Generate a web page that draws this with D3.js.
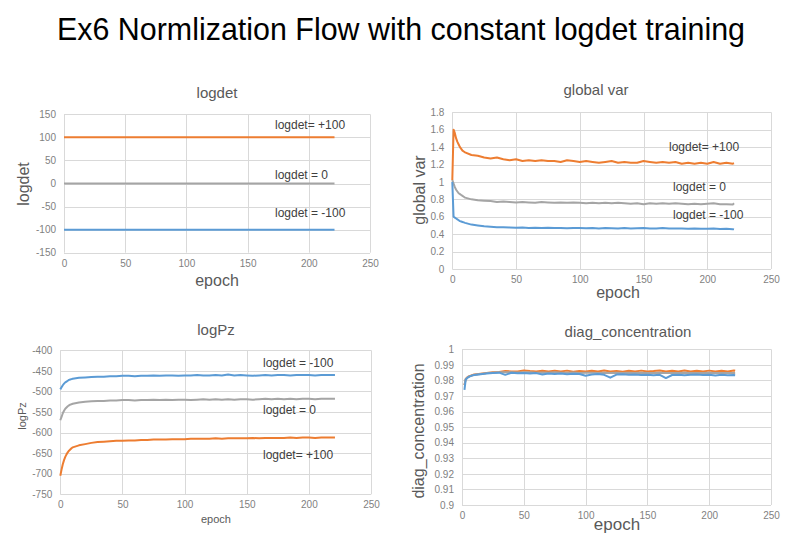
<!DOCTYPE html>
<html>
<head>
<meta charset="utf-8">
<script src="https://cdn.jsdelivr.net/npm/d3@7"></script>
<style>
  body { margin: 0; background: #fff; }
  text { font-family: "Liberation Sans", Arial, sans-serif; }
</style>
</head>
<body>
<div id="container"></div>
<script>
var epochs = [0,1,2,3,4,5,6,7,8,9,10,15,20,25,30,35,40,45,50,55,60,65,70,75,80,85,90,95,100,105,110,115,120,125,130,135,140,145,150,155,160,165,170,175,180,185,190,195,200,205,210,215,220,221];
var logdetEpochs = [0, 221];

// logdet panel
var logdetPos = [100, 100];
var logdetZero = [0, 0];
var logdetNeg = [-100, -100];

// global var panel
var varPos = [1.02,1.60,1.56,1.50,1.46,1.43,1.40,1.38,1.36,1.35,1.34,1.31,1.30,1.28,1.27,1.28,1.26,1.25,1.26,1.24,1.25,1.24,1.25,1.24,1.24,1.23,1.25,1.24,1.23,1.24,1.23,1.22,1.23,1.24,1.22,1.23,1.22,1.22,1.24,1.23,1.22,1.23,1.22,1.23,1.21,1.22,1.21,1.22,1.21,1.23,1.21,1.22,1.21,1.215];
var varZero = [1.02,0.98,0.94,0.91,0.89,0.87,0.86,0.85,0.84,0.83,0.82,0.80,0.79,0.785,0.78,0.77,0.775,0.77,0.765,0.77,0.765,0.76,0.77,0.765,0.76,0.765,0.76,0.765,0.76,0.755,0.76,0.755,0.76,0.755,0.76,0.755,0.75,0.755,0.745,0.755,0.75,0.755,0.75,0.755,0.75,0.745,0.75,0.745,0.75,0.755,0.745,0.745,0.74,0.755];
var varNeg = [1.00,0.60,0.59,0.58,0.57,0.56,0.55,0.545,0.54,0.535,0.53,0.51,0.50,0.49,0.485,0.48,0.48,0.478,0.475,0.478,0.472,0.475,0.47,0.474,0.47,0.472,0.468,0.472,0.47,0.468,0.472,0.466,0.47,0.468,0.465,0.47,0.466,0.468,0.47,0.465,0.466,0.47,0.464,0.466,0.465,0.462,0.466,0.463,0.462,0.465,0.46,0.462,0.458,0.455];

// logPz panel
var pzNeg = [-495,-490,-485,-481,-478,-476,-474,-472,-471,-470,-469,-467,-466,-465,-464,-464,-463,-463,-462,-462,-463,-462,-462,-461,-462,-461,-461,-462,-461,-461,-460,-461,-461,-460,-461,-459,-461,-460,-461,-462,-461,-460,-461,-460,-460,-461,-460,-460,-460,-461,-460,-460,-460,-460];
var pzZero = [-570,-562,-553,-547,-542,-539,-536,-534,-532,-531,-530,-527,-525,-524,-523,-523,-522,-522,-521,-521,-522,-521,-521,-520,-521,-520,-521,-520,-520,-521,-520,-519,-520,-519,-520,-519,-520,-519,-519,-520,-519,-518,-519,-518,-519,-518,-519,-518,-518,-519,-518,-518,-518,-518];
var pzPos = [-705,-690,-677,-667,-659,-653,-648,-644,-641,-638,-636,-631,-628,-625,-623,-622,-621,-620,-620,-619,-619,-618,-618,-617,-617,-617,-616,-616,-616,-615,-615,-615,-615,-614,-615,-614,-614,-614,-614,-613,-614,-613,-613,-613,-613,-612,-613,-612,-612,-613,-612,-612,-612,-612];

// diag_concentration panel (no values at epoch 0 and 1)
var diagPos = [null,null,0.977,0.981,0.9818,0.9824,0.9828,0.983,0.9833,0.9836,0.9838,0.9843,0.9848,0.9852,0.9855,0.986,0.9858,0.9857,0.9864,0.986,0.9858,0.9862,0.9857,0.9862,0.9858,0.9863,0.9856,0.9861,0.9858,0.9862,0.9857,0.9864,0.9858,0.9861,0.9856,0.9862,0.9858,0.9863,0.9857,0.986,0.9864,0.9857,0.9862,0.9858,0.9864,0.9857,0.9862,0.9858,0.9863,0.9857,0.9862,0.9858,0.9864,0.9862];
var diagZero = [null,null,0.977,0.9808,0.9816,0.9822,0.9826,0.9829,0.9832,0.9834,0.9836,0.9842,0.9847,0.985,0.9852,0.9853,0.9852,0.9851,0.9853,0.9852,0.985,0.9851,0.9849,0.9852,0.985,0.9849,0.9851,0.9848,0.985,0.9849,0.9848,0.985,0.9847,0.9849,0.9848,0.985,0.9847,0.9849,0.9847,0.9848,0.9849,0.9847,0.9848,0.9847,0.9849,0.9847,0.9848,0.9847,0.9849,0.9847,0.9848,0.9847,0.9848,0.9848];
var diagNeg = [null,null,0.974,0.9805,0.9814,0.982,0.9825,0.9828,0.9831,0.9833,0.9835,0.984,0.9845,0.9848,0.985,0.9836,0.9849,0.9846,0.9848,0.9845,0.9847,0.9838,0.9845,0.9842,0.9844,0.984,0.9843,0.9841,0.983,0.9838,0.9842,0.9836,0.9818,0.9838,0.984,0.9836,0.9838,0.9835,0.9837,0.9834,0.9836,0.9815,0.9835,0.9837,0.9834,0.9836,0.9838,0.9835,0.9837,0.9832,0.9836,0.9834,0.9835,0.9834];

// tick values
var xTicks = [0, 50, 100, 150, 200, 250];
var logdetTicks = [-150, -100, -50, 0, 50, 100, 150];
var varTicks = [0, 0.2, 0.4, 0.6, 0.8, 1, 1.2, 1.4, 1.6, 1.8];
var pzTicks = [-750, -700, -650, -600, -550, -500, -450, -400];
var diagTicks = [0.9, 0.91, 0.92, 0.93, 0.94, 0.95, 0.96, 0.97, 0.98, 0.99, 1];

var labelPos = "logdet= +100", labelZero = "logdet = 0", labelNeg = "logdet = -100";

var orange = "#ED7D31", gray = "#A5A5A5", blue = "#5B9BD5";

var svg = d3.select("#container").append("svg")
  .attr("width", 800).attr("height", 541);
svg.append("rect").attr("width", 800).attr("height", 541).attr("fill", "#fff");

svg.append("text") //main title
  .attr("x", 401).attr("y", 40)
  .attr("text-anchor", "middle")
  .attr("font-size", 32)
  .attr("font-family", "Lato, 'Liberation Sans', sans-serif")
  .attr("font-weight", 300)
  .attr("textLength", 688).attr("lengthAdjust", "spacingAndGlyphs")
  .attr("fill", "#000")
  .text("Ex6 Normlization Flow with constant logdet training");

var panels = [
  { l: 64, r: 370, t: 114.3, b: 252.7, yTicks: logdetTicks, title: "logdet", tx: 217, ty: 98,
    xl: 217, xlY: 286, xlSize: 16, yl: "logdet", ylX: 29, ylY: 184, ylSize: 16,
    series: [[logdetEpochs, logdetPos, orange], [logdetEpochs, logdetZero, gray], [logdetEpochs, logdetNeg, blue]],
    notes: [[labelPos, 275, 129], [labelZero, 275, 179], [labelNeg, 275, 217]] },
  { l: 452.3, r: 771, t: 112.3, b: 269, yTicks: varTicks, title: "global var", tx: 596, ty: 95,
    xl: 618, xlY: 298, xlSize: 16, yl: "global var", ylX: 425, ylY: 190, ylSize: 16,
    series: [[epochs, varPos, orange], [epochs, varZero, gray], [epochs, varNeg, blue]],
    notes: [[labelPos, 669, 151], [labelZero, 673, 191], [labelNeg, 673, 219]] },
  { l: 60.3, r: 371, t: 350.3, b: 494.3, yTicks: pzTicks, title: "logPz", tx: 216, ty: 335,
    xl: 216, xlY: 523, xlSize: 11, yl: "logPz", ylX: 26, ylY: 416, ylSize: 11,
    series: [[epochs, pzPos, orange], [epochs, pzZero, gray], [epochs, pzNeg, blue]],
    notes: [[labelNeg, 263, 367], [labelZero, 263, 414], [labelPos, 263, 459]] },
  { l: 462, r: 771, t: 349.3, b: 505, yTicks: diagTicks, title: "diag_concentration", tx: 628, ty: 337,
    xl: 617, xlY: 530, xlSize: 17, yl: "diag_concentration", ylX: 424, ylY: 431, ylSize: 16,
    series: [[epochs, diagPos, orange], [epochs, diagZero, gray], [epochs, diagNeg, blue]],
    notes: [] }
];

panels.forEach(drawPanel);

function drawPanel(p) {
  var x = d3.scaleLinear().domain([0, 250]).range([p.l, p.r]);
  var y = d3.scaleLinear().domain(d3.extent(p.yTicks)).range([p.b, p.t]);
  var g = svg.append("g");
  var fmt = function(d) { return String(+d.toFixed(2)); };

  // gridlines
  g.selectAll("line.h").data(p.yTicks).enter().append("line")
    .attr("x1", p.l).attr("x2", p.r)
    .attr("y1", function(d) { return Math.round(y(d)) + 0.5; })
    .attr("y2", function(d) { return Math.round(y(d)) + 0.5; })
    .attr("stroke", "#d9d9d9");
  g.selectAll("line.v").data(xTicks).enter().append("line")
    .attr("y1", p.t).attr("y2", p.b)
    .attr("x1", function(d) { return Math.round(x(d)) + 0.5; })
    .attr("x2", function(d) { return Math.round(x(d)) + 0.5; })
    .attr("stroke", "#d9d9d9");

  // axes (labels only, lines come from the grid)
  var ax = g.append("g").attr("transform", "translate(0," + p.b + ")")
    .call(d3.axisBottom(x).tickValues(xTicks).tickSize(0).tickPadding(7).tickFormat(fmt));
  var ay = g.append("g").attr("transform", "translate(" + p.l + ",0)")
    .call(d3.axisLeft(y).tickValues(p.yTicks).tickSize(0).tickPadding(8).tickFormat(fmt));
  [ax, ay].forEach(function(a) {
    a.select(".domain").remove();
    a.selectAll("text").attr("fill", "#7f7f7f").attr("font-size", 10)
      .attr("font-family", "Liberation Sans, Arial, sans-serif");
  });

  // series
  p.series.forEach(function(s) {
    var pts = s[0].map(function(e, i) { return [e, s[1][i]]; });
    var line = d3.line()
      .defined(function(d) { return d[1] != null; })
      .x(function(d) { return x(d[0]); })
      .y(function(d) { return y(d[1]); });
    g.append("path").datum(pts)
      .attr("d", line)
      .attr("fill", "none")
      .attr("stroke", s[2])
      .attr("stroke-width", 2)
      .attr("stroke-linejoin", "round");
  });

  // titles
  g.append("text").attr("x", p.tx).attr("y", p.ty).attr("text-anchor", "middle")
    .attr("font-size", 15).attr("fill", "#595959").text(p.title);
  g.append("text").attr("x", p.xl).attr("y", p.xlY).attr("text-anchor", "middle")
    .attr("font-size", p.xlSize).attr("fill", "#595959").text("epoch");
  g.append("text").attr("transform", "translate(" + p.ylX + "," + p.ylY + ") rotate(-90)")
    .attr("text-anchor", "middle")
    .attr("font-size", p.ylSize).attr("fill", "#595959").text(p.yl);

  // in-plot notes
  p.notes.forEach(function(n) {
    g.append("text").attr("x", n[1]).attr("y", n[2])
      .attr("font-size", 12).attr("fill", "#404040").text(n[0]);
  });
}
</script>
</body>
</html>
